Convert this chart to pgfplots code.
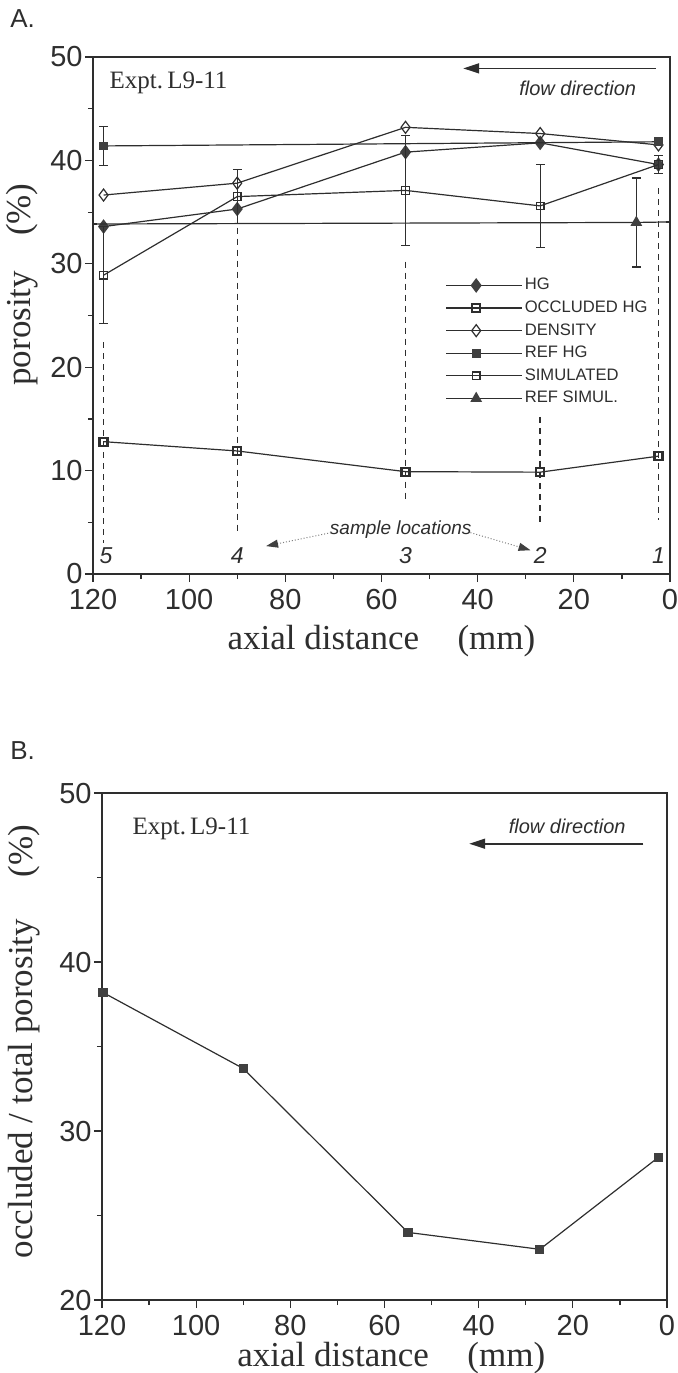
\documentclass[border=0pt]{standalone}
\usepackage{pgfplots}
\pgfplotsset{compat=1.18}
\usepackage{fontspec}
\setmainfont{Liberation Serif}
\setsansfont{Liberation Sans}
\usetikzlibrary{arrows.meta}
\definecolor{ink}{HTML}{2E2E2E}
\definecolor{mk}{HTML}{404040}
\pgfplotsset{
  refstyle/.style={
    scale only axis, x dir=reverse, xmin=0, xmax=120,
    xtick={0,20,...,120}, minor xtick={10,30,...,110},
    tick align=outside, xtick pos=left, ytick pos=left,
    major tick length=4pt, minor tick length=2.5pt,
    tick style={ink, line width=0.6pt},
    axis line style={ink, line width=0.7pt},
    ticklabel style={font=\sffamily\fontsize{14.5}{16}\selectfont, text=ink},
    xticklabel style={inner sep=0.5pt, yshift=-3pt},
    yticklabel style={inner sep=1pt},
    /pgf/number format/assume math mode=true,
    xlabel={axial distance\hspace{1.1em}(mm)},
    label style={font=\rmfamily\fontsize{17.5}{20}\selectfont, text=ink},
    clip mode=individual,
  },
  ebars/.style={error bars/.cd, y dir=both, y explicit,
    error bar style={line width=0.6pt, ink},
    error mark options={rotate=90, mark size=2.2pt, line width=0.6pt, ink}},
}
\tikzset{numlab/.style={font=\sffamily\itshape\fontsize{11.5}{12}\selectfont, text=ink}}
\begin{document}
\begin{tikzpicture}
\useasboundingbox (0,0) rectangle (338.5pt,-686.5pt);
\node[anchor=base west, font=\sffamily\fontsize{13}{14}\selectfont, text=ink, inner sep=0pt] at (5pt,-13.5pt) {A.};
\node[anchor=base west, font=\sffamily\fontsize{13}{14}\selectfont, text=ink, inner sep=0pt] at (5pt,-379.5pt) {B.};

\begin{axis}[refstyle,
  at={(46.5pt,-287pt)}, anchor=south west, width=288.5pt, height=258.5pt,
  ymin=0, ymax=50, ytick={0,10,...,50}, minor ytick={5,15,...,45},
  xlabel style={at={(axis description cs:0.5,-0.13)}, anchor=center},
  ylabel={porosity\hspace{1em}(\%)},
  ylabel style={at={(axis description cs:-0.123,0.56)}, anchor=center},
  legend style={at={(axis description cs:0.6,0.585)}, anchor=north west, draw=none, fill=none,
    font=\sffamily\fontsize{8.3}{9}\selectfont, text=ink, row sep=1.8pt,
    nodes={inner sep=1pt, text height=6pt, text depth=1.5pt}},
  legend cell align=left,
  legend image code/.code={\path (0pt,0pt) -- (38pt,0pt);
    \draw[mark repeat=2,mark phase=2,#1] plot coordinates {(0pt,0pt) (15pt,0pt) (30pt,0pt)};},
]
% sample location dashed lines
\addplot[ink, line width=0.7pt, dash pattern=on 3pt off 2.5pt, forget plot] coordinates {(117.8,22.4) (117.8,3.0)};
\addplot[ink, line width=0.7pt, dash pattern=on 3pt off 2.5pt, forget plot] coordinates {(90,33.5) (90,4.2)};
\addplot[ink, line width=0.7pt, dash pattern=on 3pt off 2.5pt, forget plot] coordinates {(55,30.2) (55,6.9)};
\addplot[ink, line width=0.7pt, dash pattern=on 3pt off 2.5pt, forget plot] coordinates {(27,15.2) (27,4.7)};
\addplot[ink, line width=0.7pt, dash pattern=on 3pt off 2.5pt, forget plot] coordinates {(2.4,37.3) (2.4,5.2)};

\addplot[ink, line width=0.6pt, mark=diamond*, mark size=3.2pt, mark options={fill=mk, draw=mk}]
  coordinates {(117.8,33.6) (90,35.3) (55,40.8) (27,41.7) (2.4,39.6)};
\addlegendentry{HG}
\addplot[ink, line width=0.6pt, mark=square, mark size=2pt, mark options={line width=1.1pt, fill=white}]
  coordinates {(117.8,12.8) (90,11.9) (55,9.9) (27,9.85) (2.4,11.4)};
\addlegendentry{OCCLUDED HG}
\addplot[ink, line width=0.6pt, mark=diamond, mark size=3pt, mark options={fill=white, line width=0.6pt}]
  coordinates {(117.8,36.65) (90,37.8) (55,43.2) (27,42.6) (2.4,41.5)};
\addlegendentry{DENSITY}
\addplot[ink, line width=0.6pt, mark=square*, mark size=1.9pt, mark options={fill=mk, draw=mk}, ebars]
  coordinates {(117.8,41.4) +- (0,1.9) (2.4,41.8) +- (0,0)};
\addlegendentry{REF HG}
\addplot[ink, line width=0.6pt, mark=square, mark size=1.9pt, mark options={fill=white, line width=0.6pt}, ebars]
  coordinates {(117.8,28.9) +- (0,4.7) (90,36.5) +- (0,2.6) (55,37.1) +- (0,5.3) (27,35.6) +- (0,4.0) (2.4,39.6) +- (0,0.85)};
\addlegendentry{SIMULATED}
\addplot[ink, line width=0.6pt, mark=triangle*, mark size=2.8pt, mark options={fill=mk, draw=mk}, mark indices={2}, ebars]
  coordinates {(120,33.85) +- (0,0) (7,34.0) +- (0,4.3) (0,34.05) +- (0,0)};
\addlegendentry{REF SIMUL.}

\node[anchor=west, font=\rmfamily\fontsize{12.5}{14}\selectfont, text=ink] at (axis cs:118,47.5) {Expt.\,L9-11};
\draw[ink, line width=0.8pt, -{Triangle[length=8pt,width=5pt]}] (axis cs:3,48.9) -- (axis cs:43,48.9);
\node[font=\sffamily\itshape\fontsize{10}{12}\selectfont, text=ink] at (axis cs:19.2,47.0) {flow direction};

\node[font=\sffamily\itshape\fontsize{9.5}{11}\selectfont, text=ink] at (axis cs:56,4.25) {sample locations};
\draw[gray, densely dotted, line width=0.5pt, -{Triangle[length=6pt,width=4pt,color=mk]}] (axis cs:70.5,4.0) -- (axis cs:84,2.7);
\draw[gray, densely dotted, line width=0.5pt, -{Triangle[length=6pt,width=4pt,color=mk]}] (axis cs:41.5,4.0) -- (axis cs:29,2.3);
\node[numlab] at (axis cs:117.3,1.8) {5};
\node[numlab] at (axis cs:90,1.8) {4};
\node[numlab] at (axis cs:55,1.8) {3};
\node[numlab] at (axis cs:27,1.8) {2};
\node[numlab] at (axis cs:2.4,1.8) {1};
\end{axis}

\begin{axis}[refstyle,
  at={(51pt,-650pt)}, anchor=south west, width=282.5pt, height=253.5pt,
  ymin=20, ymax=50, ytick={20,30,40,50}, minor ytick={25,35,45},
  xlabel style={at={(axis description cs:0.512,-0.114)}, anchor=center},
  ylabel={occluded / total porosity\hspace{1.2em}(\%)},
  ylabel style={at={(axis description cs:-0.138,0.51)}, anchor=center},
]
\addplot[ink, line width=0.6pt, mark=square*, mark size=2pt, mark options={fill=mk, draw=mk}]
  coordinates {(119.8,38.2) (90,33.7) (55,24.0) (27,23.0) (1.8,28.45)};
\node[anchor=west, font=\rmfamily\fontsize{12.5}{14}\selectfont, text=ink] at (axis cs:115,47.9) {Expt.\,L9-11};
\node[font=\sffamily\itshape\fontsize{10}{12}\selectfont, text=ink] at (axis cs:21.2,48.0) {flow direction};
\draw[ink, line width=0.8pt, -{Triangle[length=8pt,width=5pt]}] (axis cs:5,47.0) -- (axis cs:42,47.0);
\end{axis}
\end{tikzpicture}
\end{document}
